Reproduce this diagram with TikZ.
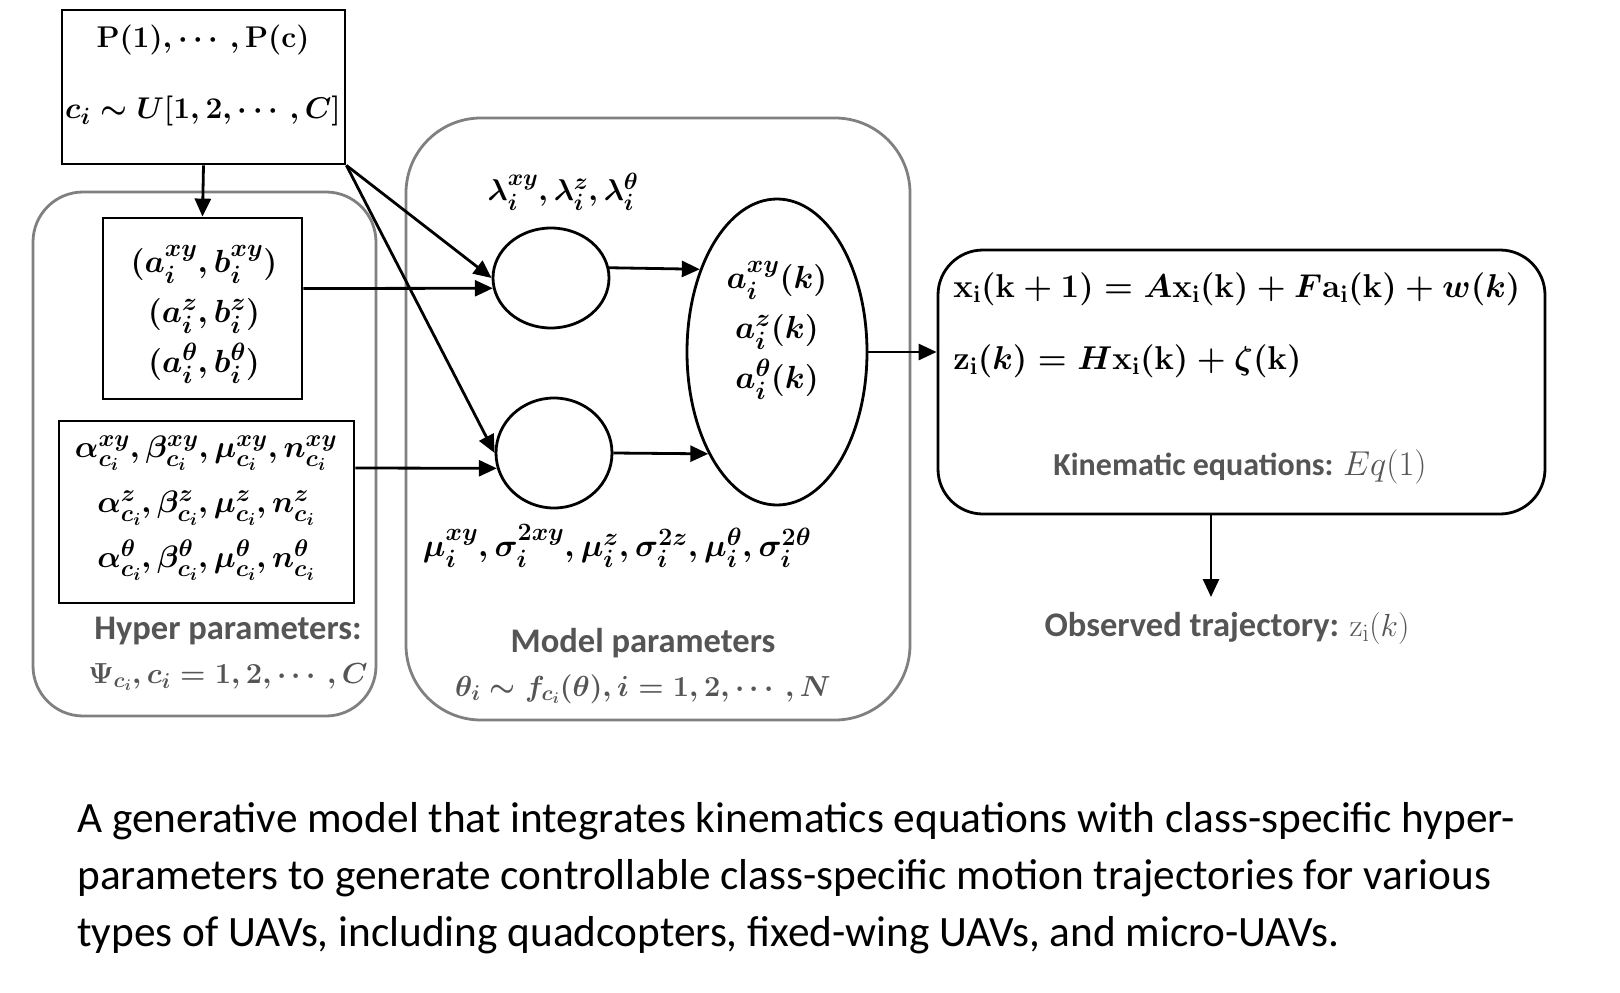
\RequirePackage{fix-cm}
\documentclass[tikz,border=0pt]{standalone}
\usepackage{amsmath,amsfonts}
\usepackage[no-math]{fontspec}
\usepackage{xcolor}
\usetikzlibrary{arrows.meta}
\usetikzlibrary{positioning}
\usetikzlibrary{shapes.geometric}
\newfontfamily\capfont{Carlito}
\definecolor{framegray}{RGB}{128,128,128}
\definecolor{labgray}{RGB}{85,85,85}
\DeclareMathSizes{29}{29}{21.5}{15.5}
\DeclareMathSizes{30}{30}{23.5}{17}
\DeclareMathSizes{31}{31}{24}{17.5}
\DeclareMathSizes{32}{32}{25}{18}
\DeclareMathSizes{33}{33}{24}{17.5}
\DeclareMathSizes{34.5}{34.5}{25}{18}

\begin{document}
\begin{tikzpicture}[x=1pt,y=-1pt,>={Triangle[length=18pt,width=16pt]},
		line width=2.8pt,
		mathtext/.style={inner sep=0pt,font=\fontsize{32}{50}\selectfont\boldmath},
		graylab/.style={inner sep=0pt,text=labgray,font=\capfont\bfseries\fontsize{34.5}{44}\selectfont\boldmath},
		sqbox/.style={draw,rectangle,inner sep=0pt},
		plate/.style={draw=framegray,rectangle,inner sep=0pt},
		varnode/.style={draw,ellipse,inner sep=0pt}]
				\useasboundingbox (0,0) rectangle (1620,993);
				
				% draw plates
				\node[plate, rounded corners=50pt, minimum width=343pt, minimum height=524pt] (hyperplate) at (204.5,454) {};
				\node[plate, rounded corners=75pt, minimum width=504pt, minimum height=602pt] (modelplate) at (658,419) {};
				
				% draw prior box
				\node[sqbox, minimum width=283pt, minimum height=154pt] (prior) at (203.5,87) {};
				\node[mathtext, font=\fontsize{30}{50}\selectfont\boldmath] (priorP) at (203,40) {$\mathbf{P}(1),\cdots,\mathbf{P}(\mathbf{c})$};
				\node[mathtext, font=\fontsize{30}{50}\selectfont\boldmath] (priorc) at (203,111) {$c_i\sim U[1,2,\cdots,C]$};
				
				% draw hyper parameter boxes
				\node[sqbox, minimum width=199pt, minimum height=181pt] (abbox) at (202.5,308.5) {};
				\node[mathtext, align=center] (abtext) at (204,314) {$(a_i^{xy},b_i^{xy})$\\$(a_i^{z},b_i^{z})$\\$(a_i^{\theta},b_i^{\theta})$};
				\node[sqbox, minimum width=295pt, minimum height=182pt] (albox) at (206.5,512) {};
				\node[mathtext, align=center, font=\fontsize{31}{55}\selectfont\boldmath] (altext) at (206,508) {$\alpha_{c_i}^{xy},\beta_{c_i}^{xy},\mu_{c_i}^{xy},n_{c_i}^{xy}$\\$\alpha_{c_i}^{z},\beta_{c_i}^{z},\mu_{c_i}^{z},n_{c_i}^{z}$\\$\alpha_{c_i}^{\theta},\beta_{c_i}^{\theta},\mu_{c_i}^{\theta},n_{c_i}^{\theta}$};
				\node[graylab, align=center] (hyperlab) at (228,654) {Hyper parameters:\\{\fontsize{29}{44}\selectfont$\Psi_{c_i},c_i=1,2,\cdots,C$}};
				
				% draw model variables
				\node[varnode, minimum width=116pt, minimum height=100pt] (lam) at (551,278) {};
				\node[varnode, minimum width=116pt, minimum height=110pt] (mu) at (554,453) {};
				\node[varnode, minimum width=180pt, minimum height=306pt] (acc) at (777,352) {};
				\node[mathtext, font=\fontsize{30}{50}\selectfont\boldmath] (lamtext) at (563,192) {$\lambda_i^{xy},\lambda_i^{z},\lambda_i^{\theta}$};
				\node[mathtext] (mutext) at (617,546) {$\mu_i^{xy},\sigma_i^{2xy},\mu_i^{z},\sigma_i^{2z},\mu_i^{\theta},\sigma_i^{2\theta}$};
				\node[mathtext, align=center] (acctext) at (777,330) {$a_i^{xy}(k)$\\$a_i^{z}(k)$\\$a_i^{\theta}(k)$};
				\node[graylab, align=center] (modellab) at (643,666) {Model parameters\\{\fontsize{29}{44}\selectfont$\theta_i\sim f_{c_i}(\theta),i=1,2,\cdots,N$}};
				
				% draw kinematic box
				\node[sqbox, rounded corners=45pt, minimum width=607pt, minimum height=264pt] (kin) at (1241.5,382) {};
				\node[mathtext, anchor=west, font=\fontsize{33}{50}\selectfont\boldmath] (eqx) at (952,289) {$\mathbf{x}_{\mathrm{i}}(\mathbf{k}+1)=A\mathbf{x}_{\mathrm{i}}(\mathbf{k})+F\mathbf{a}_{\mathrm{i}}(\mathbf{k})+w(k)$};
				\node[mathtext, anchor=west, font=\fontsize{33}{50}\selectfont\boldmath] (eqz) at (952,361) {$\mathbf{z}_{\mathrm{i}}(k)=H\mathbf{x}_{\mathrm{i}}(\mathbf{k})+\zeta(\mathbf{k})$};
				\node[graylab, font=\capfont\bfseries\fontsize{32}{40}\selectfont] (kinlab) at (1240,467) {Kinematic equations: {\unboldmath\fontsize{34.5}{40}\selectfont$Eq(1)$}};
				\node[graylab] (obs) at (1227,628) {Observed trajectory: {\unboldmath\fontsize{32}{40}\selectfont$\mathrm{z}_{\mathrm{i}}(k)$}};
				\coordinate (obstip) at (1211,597);
				
				% draw arrows
				\draw[->] (prior.south) -- (abbox.north);
				\draw[->] (prior.south east) -- (lam.west);
				\draw[->] (prior.south east) -- (mu.west);
				\draw[->] ([yshift=20pt]abbox.east) -- (lam.190);
				\draw[->] ([yshift=44pt]albox.east) -- (mu.195);
				\draw[->] (lam.10) -- (acc.133);
				\draw[->] (mu.east) -- (acc.236);
				\draw[->] (acc.east) -- (acc.east -| kin.west);
				\draw[->] ([xshift=-30.5pt]kin.south) -- (obstip);
				
				% caption
				\node[anchor=north west, inner sep=0pt, align=left, font=\capfont\fontsize{43.3}{57}\selectfont] (caption) at (76,801) {A generative model that integrates kinematics equations with class-specific hyper-\\parameters to generate controllable class-specific motion trajectories for various\\types of UAVs, including quadcopters, fixed-wing UAVs, and micro-UAVs.};
			\end{tikzpicture}
\end{document}
